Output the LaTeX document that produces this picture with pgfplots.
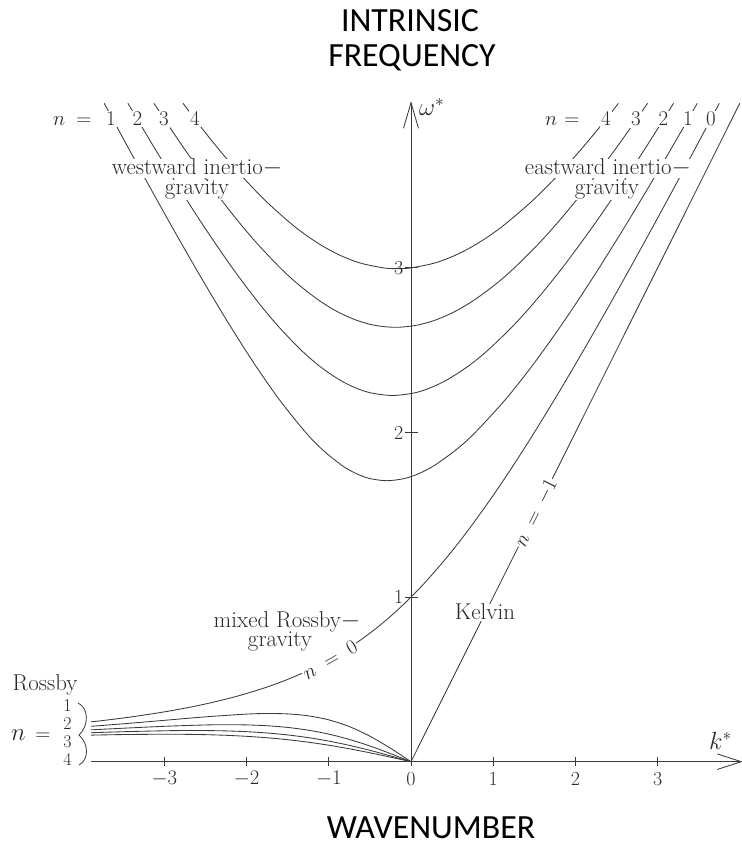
\documentclass[border=0pt]{standalone}
\usepackage{fontspec}
\usepackage{pgfplots}
\pgfplotsset{compat=1.18}
\newfontfamily\calibri{Carlito}
\definecolor{ln}{HTML}{3A3A3A}
\definecolor{tx}{HTML}{2A2A2A}
\newcommand{\lbf}[1]{\fontsize{#1}{20}\selectfont\addfontfeatures{LetterSpace=2}}
\begin{document}
\begin{tikzpicture}
\path[use as bounding box] (0,0) rectangle (742bp,848bp);
\begin{axis}[scale only axis, width=742bp, height=848bp,
  xmin=-5, xmax=4.02676, ymin=-0.5243, ymax=4.62758,
  hide axis, clip=false]
% inertio-gravity n=1
\addplot[ln, line width=0.85bp, smooth] coordinates {(-3.73272,4.0) (-3.46204,3.75) (-3.18759,3.5) (-2.90815,3.25) (-2.62182,3.0) (-2.38581,2.8) (-2.14090,2.6) (-1.88268,2.4) (-1.60265,2.2) (-1.28078,2.0) (-1.08733,1.9) (-0.84095,1.8) (-0.66536,1.75) (-0.49783,1.72) (-0.2929,1.7071) (-0.08357,1.72) (0.09394,1.75) (0.28539,1.8) (0.56101,1.9) (0.78078,2.0) (1.14810,2.2) (1.46601,2.4) (1.75628,2.6) (2.02867,2.8) (2.28849,3.0) (2.60046,3.25) (2.90188,3.5) (3.19537,3.75) (3.48272,4.0)};
% n=2
\addplot[ln, line width=0.85bp, smooth] coordinates {(-3.44398,4.0) (-3.14669,3.75) (-2.83923,3.5) (-2.51735,3.25) (-2.17360,3.0) (-1.87324,2.8) (-1.62329,2.65) (-1.33578,2.5) (-1.10466,2.4) (-0.87038,2.32) (-0.66906,2.27) (-0.48288,2.24) (-0.2247,2.2248) (0.03645,2.24) (0.22853,2.27) (0.43935,2.32) (0.68799,2.4) (0.93578,2.5) (1.24593,2.65) (1.51610,2.8) (1.84027,3.0) (2.20966,3.25) (2.55352,3.5) (2.88002,3.75) (3.19398,4.0)};
% n=3
\addplot[ln, line width=0.85bp, smooth] coordinates {(-3.12761,4.0) (-2.79422,3.75) (-2.43860,3.5) (-2.12964,3.3) (-1.87562,3.15) (-1.59067,3.0) (-1.37230,2.9) (-1.11232,2.8) (-0.88061,2.73) (-0.65263,2.68) (-0.42972,2.65) (-0.1895,2.639) (0.05236,2.65) (0.27950,2.68) (0.51431,2.73) (0.75518,2.8) (1.02747,2.9) (1.25734,3.0) (1.55816,3.15) (1.82661,3.3) (2.15289,3.5) (2.52755,3.75) (2.87761,4.0)};
% n=4
\addplot[ln, line width=0.85bp, smooth] coordinates {(-2.77370,4.0) (-2.54635,3.85) (-2.30499,3.7) (-2.04409,3.55) (-1.75381,3.4) (-1.41328,3.25) (-1.13223,3.15) (-0.87841,3.08) (-0.62123,3.03) (-0.33333,3.0) (-0.1669,2.9954) (0,3.0) (0.29120,3.03) (0.55373,3.08) (0.81477,3.15) (1.10559,3.25) (1.45969,3.4) (1.76240,3.55) (2.03472,3.7) (2.28661,3.85) (2.52370,4.0)};
% mixed Rossby-gravity n=0
\addplot[ln, line width=0.85bp, smooth] coordinates {(-3.890,0.242) (-3.75,0.25) (-3.4337,0.27) (-3.0333,0.3) (-2.7003,0.33) (-2.4178,0.36) (-2.1,0.4) (-1.7722,0.45) (-1.5,0.5) (-1.2682,0.55) (-1.0667,0.6) (-0.7286,0.7) (-0.45,0.8) (-0.2111,0.9) (0,1.0) (0.1909,1.1) (0.45,1.25) (0.6857,1.4) (0.975,1.6) (1.2444,1.8) (1.5,2.0) (1.8056,2.25) (2.1,2.5) (2.3864,2.75) (2.6667,3.0) (2.9423,3.25) (3.2143,3.5) (3.4833,3.75) (3.75,4.0)};
% Kelvin n=-1
\addplot[ln, line width=0.85bp] coordinates {(0,0) (4.0,4.0)};
% Rossby n=1..4
\addplot[ln, line width=0.85bp, smooth] coordinates {(-3.89,0.21508) (-3.5,0.23030) (-3.0,0.25132) (-2.5,0.27246) (-2.0,0.28917) (-1.75,0.29280) (-1.5,0.29037) (-1.25,0.27871) (-1.0,0.25410) (-0.75,0.21325) (-0.5,0.15499) (-0.25,0.08181) (0,0)};
\addplot[ln, line width=0.85bp, smooth] coordinates {(-3.89,0.19358) (-3.5,0.20338) (-3.0,0.21500) (-2.5,0.22321) (-2.25,0.22473) (-2.0,0.22346) (-1.75,0.21835) (-1.5,0.20814) (-1.25,0.19155) (-1.0,0.16745) (-0.75,0.13527) (-0.5,0.09540) (-0.25,0.04940) (0,0)};
\addplot[ln, line width=0.85bp, smooth] coordinates {(-3.89,0.17601) (-3.5,0.18213) (-3.0,0.18791) (-2.75,0.18930) (-2.5,0.18919) (-2.25,0.18707) (-2.0,0.18237) (-1.75,0.17444) (-1.5,0.16263) (-1.25,0.14635) (-1.0,0.12524) (-0.75,0.09930) (-0.5,0.06901) (-0.25,0.03540) (0,0)};
\addplot[ln, line width=0.85bp, smooth] coordinates {(-3.89,0.16137) (-3.5,0.16492) (-3.0,0.16692) (-2.75,0.16631) (-2.5,0.16422) (-2.25,0.16029) (-2.0,0.15413) (-1.75,0.14533) (-1.5,0.13354) (-1.25,0.11850) (-1.0,0.10010) (-0.75,0.07848) (-0.5,0.05408) (-0.25,0.02759) (0,0)};
\end{axis}
\begin{scope}[x=1bp, y=-1bp, shift={(0,848bp)}]
% axes
\draw[ln, line width=0.85bp] (91,761.7) -- (741.3,761.7);
\draw[ln, line width=0.85bp] (717.3,753.9) -- (741.3,761.7) -- (717.3,769.5);
\draw[ln, line width=0.85bp] (411,761.7) -- (411,102.7);
\draw[ln, line width=0.85bp] (403.5,128.3) -- (411,102.7) -- (418.5,128.3);
% ticks
\foreach \px in {164.4,246.6,328.8,411,493.2,575.4,657.6}
  \draw[ln, line width=0.85bp] (\px,756.7) -- (\px,765.7);
\foreach \py in {597.1,432.5,267.9}
  \draw[ln, line width=0.85bp] (405,\py) -- (418,\py);
% tick labels
\begin{scope}[every node/.style={text=tx, font=\fontsize{20}{20}\selectfont}]
\node at (164.4,779) {$-3$};
\node at (246.6,779) {$-2$};
\node at (328.8,779) {$-1$};
\node at (411,779) {0};
\node at (493.2,779) {1};
\node at (575.4,779) {2};
\node at (657.6,779) {3};
\node[anchor=east, inner sep=1bp] at (404.5,597.1) {1};
\node[anchor=east, inner sep=1bp] at (404.5,432.5) {2};
\node[anchor=east, inner sep=1bp] at (404.5,267.9) {3};
\end{scope}
% axis names
\node[text=tx, anchor=base west, inner sep=0pt, font=\fontsize{23}{23}\selectfont] at (419,116) {$\omega^*$};
\node[text=tx, anchor=base west, inner sep=0pt, font=\fontsize{25}{25}\selectfont] at (709,750) {$k^*$};
% titles
\node[anchor=base, inner sep=0pt, font=\calibri\fontsize{34}{34}\selectfont] at (410,32) {INTRINSIC};
\node[anchor=base, inner sep=0pt, font=\calibri\fontsize{34}{34}\selectfont] at (412,67) {FREQUENCY};
\node[anchor=base, inner sep=0pt, font=\calibri\fontsize{34}{34}\selectfont] at (431,839) {WAVENUMBER};
% top-left labels
\node[text=tx, anchor=base west, inner sep=0pt, font=\fontsize{22}{22}\selectfont] at (53,126) {$n$};
\node[text=tx, anchor=base, inner sep=0pt, font=\fontsize{21}{21}\selectfont] at (84,126) {=};
\begin{scope}[every node/.style={text=tx, anchor=base, fill=white, inner sep=1.5bp, font=\fontsize{21}{21}\selectfont}]
\node at (111,126) {1};
\node at (137.5,126) {2};
\node at (164,126) {3};
\node at (195,126) {4};
\node at (606,126) {4};
\node at (636,126) {3};
\node at (663.5,126) {2};
\node at (688,126) {1};
\node at (711,126) {0};
\end{scope}
\node[text=tx, anchor=base west, inner sep=0pt, font=\fontsize{22}{22}\selectfont] at (545,126) {$n$};
\node[text=tx, anchor=base, inner sep=0pt, font=\fontsize{21}{21}\selectfont] at (572,126) {=};
% wave names
\begin{scope}[every node/.style={text=tx, anchor=base, fill=white, inner sep=0.5bp, font=\lbf{23}}]
\node at (197,175) {westward inertio$-$};
\node at (197,195) {gravity};
\node at (608,175) {eastward inertio$-$};
\node at (607,195) {gravity};
\node at (287,628) {mixed Rossby$-$};
\node at (280,647) {gravity};
\node at (485,620) {Kelvin};
\node[anchor=base west, fill=none] at (12,691) {Rossby};
\end{scope}
\node[text=tx, fill=white, inner sep=1bp, rotate=29.5, font=\fontsize{22}{22}\selectfont] at (330,660) {$n\;=\;0$};
\node[text=tx, fill=white, inner sep=1bp, rotate=63.4, font=\fontsize{22}{22}\selectfont] at (536,513) {$n\;=\,-1$};
% Rossby n labels
\begin{scope}[every node/.style={text=tx, anchor=base, inner sep=0pt, font=\fontsize{18}{18}\selectfont}]
\node at (67.5,712) {1};
\node at (67.5,730) {2};
\node at (67.5,748) {3};
\node at (67.5,766) {4};
\end{scope}
\node[text=tx, anchor=base west, inner sep=0pt, font=\fontsize{24}{24}\selectfont] at (11,741) {$n$};
\node[text=tx, anchor=base, inner sep=0pt, font=\fontsize{21}{21}\selectfont] at (43,741) {=};
\draw[ln, line width=0.8bp] (78,703) .. controls (89,708) and (89,726) .. (79,735) .. controls (89,744) and (89,760) .. (79,765);
\end{scope}
\end{tikzpicture}
\end{document}
